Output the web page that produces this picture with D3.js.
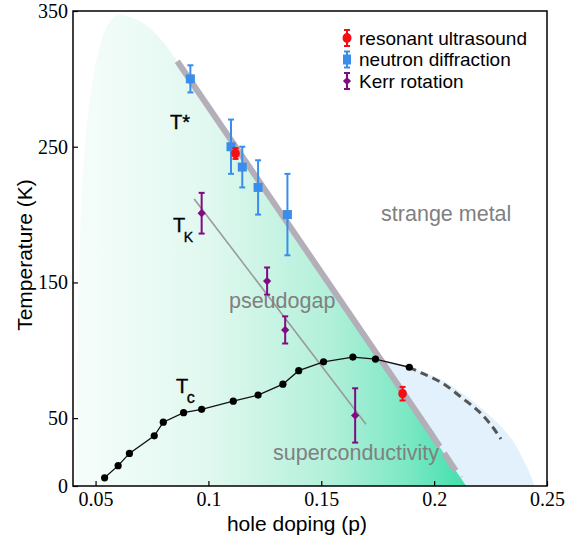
<!DOCTYPE html>
<html>
<head>
<meta charset="utf-8">
<script src="https://cdn.jsdelivr.net/npm/d3@7"></script>
<style>
  html, body { margin: 0; padding: 0; background: #fff; }
  svg { display: block; }
</style>
</head>
<body>
<svg id="chart" width="566" height="544"></svg>
<script>
// ---- data -------------------------------------------------------------
// superconducting transition temperature Tc(p)
const tcDoping = [0.054, 0.060, 0.065, 0.076, 0.080, 0.089, 0.097, 0.111, 0.122, 0.133, 0.140, 0.151, 0.164, 0.174, 0.189];
const tcTemp   = [6, 15, 24, 37, 47, 54, 56.5, 62.5, 67, 75, 85, 91.5, 95, 93.5, 87.5];

// dashed continuation of the Tc dome
const tcExtDoping = [0.1887, 0.1948, 0.2037, 0.2126, 0.2199, 0.2258, 0.2296];
const tcExtTemp   = [87.5, 83, 75.7, 64.6, 54.8, 43.7, 34.6];

// neutron diffraction T*
const ndDoping = [0.092, 0.110, 0.115, 0.122, 0.135];
const ndTemp   = [300, 250, 235, 220, 200];
const ndErr    = [10, 20, 15, 20, 30];

// resonant ultrasound
const ruDoping = [0.112, 0.186];
const ruTemp   = [245, 68];
const ruErr    = [4, 5];

// Kerr rotation T_K
const krDoping = [0.097, 0.126, 0.134, 0.165];
const krTemp   = [201, 151, 115, 52];
const krErr    = [15, 10, 10, 20];

// T* line (solid part, then dashed part)
const tStarDoping = [0.0862, 0.1973, 0.2117];
const tStarTemp   = [313, 42, 6];

// T_K guide line
const tkDoping = [0.0937, 0.1698];
const tkTemp   = [211.5, 45.5];

// pseudogap shading outline (left rounded edge, then down the T* line)
const pgDoping = [0.0415, 0.0420, 0.0435, 0.0455, 0.0480, 0.0515, 0.0555, 0.0595, 0.0645, 0.0700, 0.0755, 0.0805, 0.0862, 0.2142];
const pgTemp   = [0, 100, 200, 255, 290, 322, 340, 347, 346, 342, 335, 326, 313, 0];

// overdoped region shading (below the dome, right of T*)
const odDoping = [0.174, 0.1887, 0.1960, 0.2048, 0.2135, 0.2212, 0.2284, 0.2345, 0.2387, 0.2422, 0.2445, 0.2142];
const odTemp   = [93.4, 87.5, 83.5, 77, 67, 57, 46, 34, 22, 10, 0, 0];

const xTicks = [0.05, 0.1, 0.15, 0.2, 0.25];
const xTickLabels = ["0.05", "0.1", "0.15", "0.2", "0.25"];
const yTicks = [0, 50, 150, 250, 350];
const yTickLabels = ["0", "50", "150", "250", "350"];

const legendItems = ["resonant ultrasound", "neutron diffraction", "Kerr rotation"];

// ---- layout -----------------------------------------------------------
const svg = d3.select("#chart");
const plotL = 73, plotR = 547, plotT = 11, plotB = 486;
const x = d3.scaleLinear().domain([0.04, 0.25]).range([plotL, plotR]);
const y = d3.scaleLinear().domain([0, 350]).range([plotB, plotT]);

const zip = (a, b) => a.map((v, i) => [v, b[i]]);
const BLUE = "#3a8dea", RED = "#f50f14", PURPLE = "#820a82";
const SANS = "'Liberation Sans', Arial, Helvetica, sans-serif";
const SERIF = "'Liberation Serif', 'Times New Roman', serif";

const defs = svg.append("defs");
const grad = defs.append("linearGradient")
  .attr("id", "pgGrad").attr("gradientUnits", "userSpaceOnUse")
  .attr("x1", x(0.04)).attr("x2", x(0.2142)).attr("y1", 0).attr("y2", 0);
[[0, "#f6fdfb"], [0.35, "#e0f8ef"], [0.65, "#b2f0da"], [0.85, "#7ce8c4"], [1, "#40dfac"]]
  .forEach(([o, c]) => grad.append("stop").attr("offset", o).attr("stop-color", c));

defs.append("clipPath").attr("id", "plotClip")
  .append("rect").attr("x", plotL).attr("y", plotT).attr("width", plotR - plotL).attr("height", plotB - plotT);

const plot = svg.append("g").attr("clip-path", "url(#plotClip)");

const straight = d3.line().x(d => x(d[0])).y(d => y(d[1]));
const smooth = d3.line().x(d => x(d[0])).y(d => y(d[1])).curve(d3.curveCatmullRom);

// overdoped shading
const odPts = zip(odDoping, odTemp);
plot.append("path")
  .attr("d", smooth(odPts.slice(1, 11)) + "L" + x(odPts[11][0]) + "," + y(odPts[11][1]) +
             "L" + x(odPts[0][0]) + "," + y(odPts[0][1]) + "Z")
  .attr("fill", "#e2f1fc");

// pseudogap shading
const pgPts = zip(pgDoping, pgTemp);
const pgLast = pgPts[pgPts.length - 1];
plot.append("path")
  .attr("d", smooth(pgPts.slice(0, pgPts.length - 1)) + "L" + x(pgLast[0]) + "," + y(pgLast[1]) + "Z")
  .attr("fill", "url(#pgGrad)");

// T* line
const tsPts = zip(tStarDoping, tStarTemp);
plot.append("path").attr("d", straight(tsPts.slice(0, 2)))
  .attr("fill", "none").attr("stroke", "#b3aeb8").attr("stroke-width", 6);
plot.append("path").attr("d", straight(tsPts.slice(1, 3)))
  .attr("fill", "none").attr("stroke", "#b3aeb8").attr("stroke-width", 6)
  .attr("stroke-dasharray", "21,8");

// T_K guide line
plot.append("path").attr("d", straight(zip(tkDoping, tkTemp)))
  .attr("fill", "none").attr("stroke", "#9a9a9a").attr("stroke-width", 1.6);

// Tc dome dashed continuation
plot.append("path").attr("d", smooth(zip(tcExtDoping, tcExtTemp)))
  .attr("fill", "none").attr("stroke", "#555").attr("stroke-width", 3)
  .attr("stroke-dasharray", "8,5");

// Tc line + points
const tcPts = zip(tcDoping, tcTemp);
plot.append("path").attr("d", straight(tcPts))
  .attr("fill", "none").attr("stroke", "#111").attr("stroke-width", 1.3);
plot.selectAll("circle.tc").data(tcPts).join("circle").attr("class", "tc")
  .attr("cx", d => x(d[0])).attr("cy", d => y(d[1])).attr("r", 3.6).attr("fill", "#000");

// region labels
const regionLabels = [
  { text: "strange metal", p: 0.1765, t: 195 },
  { text: "pseudogap", p: 0.1091, t: 131 },
  { text: "superconductivity", p: 0.1286, t: 19 }
];
svg.selectAll("text.region").data(regionLabels).join("text").attr("class", "region")
  .attr("x", d => x(d.p)).attr("y", d => y(d.t))
  .attr("font-family", SANS).attr("font-size", 21.5).attr("fill", "#808080")
  .text(d => d.text);

// error bar helper
function errorBars(g, pts, color, capW, sw) {
  g.selectAll(null).data(pts).join("line")
    .attr("x1", d => x(d[0])).attr("x2", d => x(d[0]))
    .attr("y1", d => y(d[1] - d[2])).attr("y2", d => y(d[1] + d[2]))
    .attr("stroke", color).attr("stroke-width", sw);
  ["lo", "hi"].forEach(k => {
    g.selectAll(null).data(pts).join("line")
      .attr("x1", d => x(d[0]) - capW / 2).attr("x2", d => x(d[0]) + capW / 2)
      .attr("y1", d => y(k === "lo" ? d[1] - d[2] : d[1] + d[2]))
      .attr("y2", d => y(k === "lo" ? d[1] - d[2] : d[1] + d[2]))
      .attr("stroke", color).attr("stroke-width", sw);
  });
}

const marks = svg.append("g");
const ndPts = ndDoping.map((p, i) => [p, ndTemp[i], ndErr[i]]);
const krPts = krDoping.map((p, i) => [p, krTemp[i], krErr[i]]);
const ruPts = ruDoping.map((p, i) => [p, ruTemp[i], ruErr[i]]);

// neutron diffraction
errorBars(marks, ndPts, BLUE, 6, 2);
marks.selectAll("rect.nd").data(ndPts).join("rect").attr("class", "nd")
  .attr("x", d => x(d[0]) - 4.5).attr("y", d => y(d[1]) - 4.5)
  .attr("width", 9).attr("height", 9).attr("fill", BLUE);

// Kerr rotation
errorBars(marks, krPts, PURPLE, 6, 2);
const diamond = d3.symbol().type(d3.symbolSquare).size(34);
marks.selectAll("path.kr").data(krPts).join("path").attr("class", "kr")
  .attr("d", diamond())
  .attr("transform", d => `translate(${x(d[0])},${y(d[1])}) rotate(45)`)
  .attr("fill", PURPLE);

// resonant ultrasound
errorBars(marks, ruPts, RED, 6, 2);
marks.selectAll("ellipse.ru").data(ruPts).join("ellipse").attr("class", "ru")
  .attr("cx", d => x(d[0])).attr("cy", d => y(d[1]))
  .attr("rx", 4.3).attr("ry", 4.8).attr("fill", RED);

// curve labels T*, T_K, T_c
const tLabel = (p, t, main, sub, subSize) => {
  const tx = svg.append("text").attr("x", x(p)).attr("y", y(t))
    .attr("font-family", SANS).attr("font-size", 20).attr("fill", "#000")
    .attr("stroke", "#000").attr("stroke-width", 0.35);
  tx.append("tspan").text(main);
  if (sub) tx.append("tspan").attr("font-size", subSize).attr("dy", 10).attr("dx", -1.5).text(sub);
};
tLabel(0.0830, 263, "T*", null, 0);
tLabel(0.0843, 187, "T", "K", 14);
tLabel(0.0856, 68.5, "T", "c", 16);

// ---- axes -------------------------------------------------------------
const xAxis = d3.axisBottom(x).tickValues(xTicks)
  .tickFormat((d, i) => xTickLabels[i]).tickSizeInner(-5).tickSizeOuter(0).tickPadding(6);
const yAxis = d3.axisLeft(y).tickValues(yTicks)
  .tickFormat((d, i) => yTickLabels[i]).tickSizeInner(-5).tickSizeOuter(0).tickPadding(5);

const gx = svg.append("g").attr("transform", `translate(0,${plotB})`).call(xAxis);
const gy = svg.append("g").attr("transform", `translate(${plotL},0)`).call(yAxis);
[gx, gy].forEach(g => {
  g.select(".domain").remove();
  g.selectAll(".tick line").attr("stroke", "#000").attr("stroke-width", 1.2);
  g.selectAll(".tick text").attr("font-family", SERIF).attr("font-size", 20).attr("fill", "#000");
});

// frame
svg.append("rect").attr("x", plotL).attr("y", plotT)
  .attr("width", plotR - plotL).attr("height", plotB - plotT)
  .attr("fill", "none").attr("stroke", "#000").attr("stroke-width", 1.5);

// axis titles
svg.append("text").attr("x", 297).attr("y", 531).attr("text-anchor", "middle")
  .attr("font-family", SANS).attr("font-size", 21).attr("fill", "#000")
  .text("hole doping (p)");
svg.append("text").attr("transform", "translate(32,255) rotate(-90)").attr("text-anchor", "middle")
  .attr("font-family", SANS).attr("font-size", 21).attr("fill", "#000")
  .text("Temperature (K)");

// ---- legend -----------------------------------------------------------
const lg = svg.append("g");
const lx = 347, ly0 = 38, ldy = 21.5;
legendItems.forEach((name, i) => {
  const cy = ly0 + i * ldy;
  const color = [RED, BLUE, PURPLE][i];
  lg.append("line").attr("x1", lx).attr("x2", lx).attr("y1", cy - 8).attr("y2", cy + 8)
    .attr("stroke", color).attr("stroke-width", 2);
  [cy - 8, cy + 8].forEach(yy => lg.append("line")
    .attr("x1", lx - 3).attr("x2", lx + 3).attr("y1", yy).attr("y2", yy)
    .attr("stroke", color).attr("stroke-width", 2));
  if (i === 0) lg.append("ellipse").attr("cx", lx).attr("cy", cy).attr("rx", 4.5).attr("ry", 5).attr("fill", color);
  if (i === 1) lg.append("rect").attr("x", lx - 4).attr("y", cy - 5).attr("width", 8).attr("height", 10).attr("fill", color);
  if (i === 2) lg.append("path").attr("d", diamond()).attr("transform", `translate(${lx},${cy}) rotate(45)`).attr("fill", color);
  lg.append("text").attr("x", lx + 12).attr("y", cy).attr("dy", "0.35em")
    .attr("font-family", SANS).attr("font-size", 19).attr("fill", "#000").text(name);
});
</script>
</body>
</html>
